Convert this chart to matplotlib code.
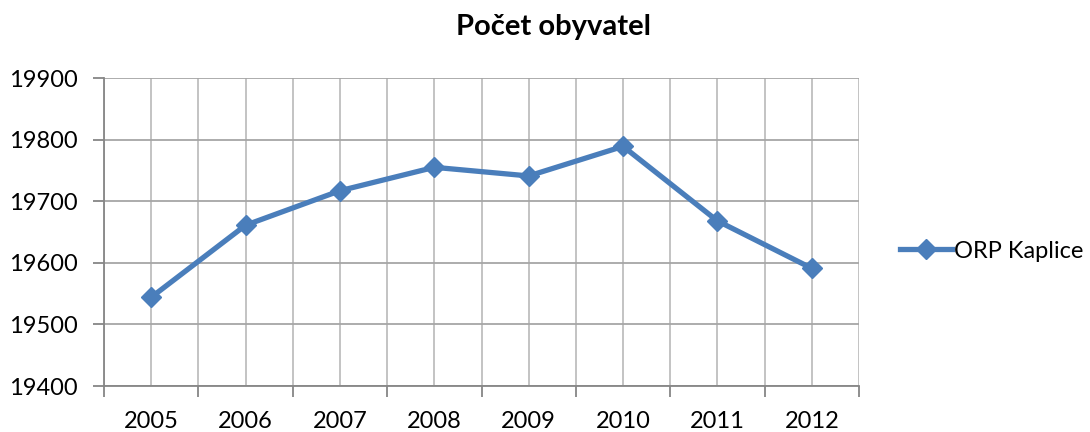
import matplotlib
matplotlib.use("Agg")
import matplotlib.pyplot as plt
from matplotlib.ticker import MultipleLocator, FixedLocator, NullFormatter

# data
years = ["2005", "2006", "2007", "2008", "2009", "2010", "2011", "2012"]
population = [19544, 19661, 19717, 19755, 19741, 19789, 19668, 19591]
series_name = "ORP Kaplice"
chart_title = "Počet obyvatel"

blue = "#4A7EBB"
grid_col = "#BEBEBE"
axis_col = "#868686"

plt.rcParams["font.family"] = ["Lato", "DejaVu Sans"]

fig = plt.figure(figsize=(10.9, 4.32), dpi=100)
ax = fig.add_axes([104 / 1090, 46 / 432, 755 / 1090, 308 / 432])

x = list(range(len(years)))
ax.plot(x, population, color=blue, linewidth=3.8, marker="D", markersize=10,
        markerfacecolor=blue, markeredgecolor=blue, label=series_name, zorder=3)

ax.set_xlim(-0.5, len(years) - 0.5)
ax.set_ylim(19400, 19900)
ax.yaxis.set_major_locator(MultipleLocator(100))

# category boundaries get tick marks, labels sit at the category centres
ax.xaxis.set_major_locator(FixedLocator([i - 0.5 for i in range(len(years) + 1)]))
ax.xaxis.set_major_formatter(NullFormatter())
ax.xaxis.set_minor_locator(FixedLocator(x))
ax.set_xticks(x, years, minor=True)
ax.tick_params(axis="x", which="major", direction="out", length=8, width=1.3, color=axis_col)
ax.tick_params(axis="x", which="minor", length=0, pad=18, labelsize=17)
ax.tick_params(axis="y", which="major", direction="out", length=8, width=1.3,
               color=axis_col, pad=11, labelsize=17)

ax.grid(True, which="both", axis="x", color=grid_col, linewidth=1.3)
ax.grid(True, which="major", axis="y", color="#A6A6A6", linewidth=1.3)
ax.set_axisbelow(True)

for side in ["top", "right"]:
    ax.spines[side].set_visible(False)
for side in ["left", "bottom"]:
    ax.spines[side].set_color(axis_col)
    ax.spines[side].set_linewidth(1.3)

fig.text(553 / 1090, 1 - 27 / 432, chart_title, ha="center", va="center",
         fontsize=21, fontweight="bold")

fig.legend(loc="center left", bbox_to_anchor=(900 / 1090, 1 - 251 / 432),
           frameon=False, fontsize=17, handlelength=2.2, handletextpad=0.1,
           borderpad=0, borderaxespad=0)

fig.savefig("out.png", dpi=100)
